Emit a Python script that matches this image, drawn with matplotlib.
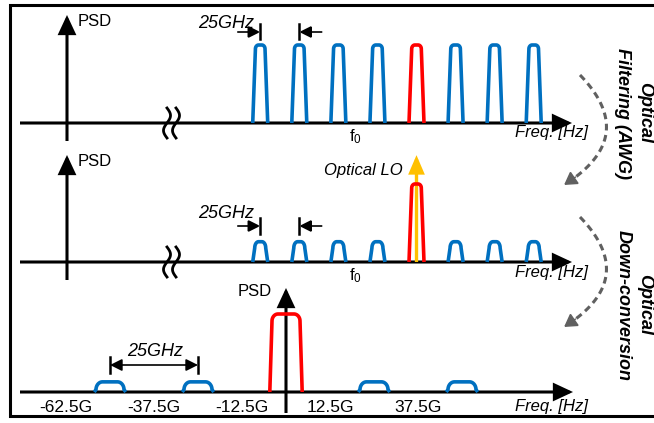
# Diagrama: filtrado óptico (AWG) y conversión descendente óptica de canales WDM
import numpy as np
import matplotlib.pyplot as plt
from matplotlib.patches import FancyArrowPatch

plt.rcParams['font.family'] = ['Liberation Sans', 'DejaVu Sans']
plt.rcParams['mathtext.default'] = 'regular'

# frecuencias de los canales relativas al canal seleccionado (GHz)
canales_wdm = [-100, -75, -50, -25, 0, 25, 50, 75]
altura_filtrado = [1, 1, 1, 1, 1, 1, 1, 1]
altura_lo = [0.26, 0.26, 0.26, 0.26, 1, 0.26, 0.26, 0.26]
nivel_lo = 1.37
# espectro tras la conversión (GHz respecto al LO)
canales_bb = [-50, -25, 0, 25, 50]
altura_bb = [0.13, 0.13, 1, 0.13, 0.13]
etiquetas_bb = [-62.5, -37.5, -12.5, 12.5, 37.5]

AZUL = '#0070C0'
ROJO = '#FF0000'
AMARILLO = '#FFC000'
W, H, U = 654, 423, 78.0

fig = plt.figure(figsize=(6.54, 4.23), dpi=100)

# ejes de fondo en pixeles para marco, ejes y textos
bg = fig.add_axes([0, 0, 1, 1])
bg.set_xlim(0, W)
bg.set_ylim(H, 0)
bg.axis('off')


def flecha(ax, p0, p1, color='k', lw=2.2, hl=0.6, hw=0.28, ms=18):
    ax.add_patch(FancyArrowPatch(p0, p1, arrowstyle=f'-|>,head_length={hl},head_width={hw}',
                                 mutation_scale=ms, color=color, lw=lw, shrinkA=0, shrinkB=0,
                                 joinstyle='miter', capstyle='butt'))


# marco
bg.plot([W, 10, 10, W], [5, 5, 416, 416], color='k', lw=2.2, solid_joinstyle='miter')

# ejes de frecuencia y PSD
for y in [123, 262]:
    flecha(bg, (20, y), (572, y))
for y0, y1 in [(141, 15), (280, 155)]:
    flecha(bg, (67, y0), (67, y1))
flecha(bg, (20, 392), (573, 392))

# simbolo de corte del eje
ys = np.linspace(-15, 15, 40)
for yc in [123, 262]:
    for xc in [167, 176]:
        bg.plot(xc + 3.5 * np.sin(np.pi * ys / 15 + np.pi), yc + ys, color='k', lw=2.0)

# textos
for x, y, ha in [(78, 22, 'left'), (78, 161, 'left'), (272, 292, 'right')]:
    bg.text(x, y, 'PSD', fontsize=12, ha=ha, va='center')
for x, y in [(226, 23), (226, 213), (155, 351)]:
    bg.text(x, y, '25GHz', fontsize=13, style='italic', ha='center', va='center')
for y in [133, 272, 407]:
    bg.text(515, y, 'Freq. [Hz]', fontsize=12, style='italic', ha='left', va='center')
for y in [137, 276]:
    bg.text(355, y, r'f$_0$', fontsize=12, ha='center', va='center')
bg.text(403, 170, 'Optical LO', fontsize=12, style='italic', ha='right', va='center')

bg.text(645, 112, 'Optical', fontsize=13, weight='bold', style='italic',
        rotation=-90, ha='center', va='center')
bg.text(623, 114, 'Filtering (AWG)', fontsize=13, weight='bold', style='italic',
        rotation=-90, ha='center', va='center')
bg.text(645, 305, 'Optical', fontsize=13, weight='bold', style='italic',
        rotation=-90, ha='center', va='center')
bg.text(623, 305, 'Down-conversion', fontsize=13, weight='bold', style='italic',
        rotation=-90, ha='center', va='center')

# flechas curvas discontinuas
t = np.linspace(0, 1, 60)
for ya in [75, 217]:
    p0, p1, p2 = np.array([580, ya]), np.array([640, ya + 62]), np.array([564, ya + 110])
    curva = ((1 - t) ** 2)[:, None] * p0 + (2 * (1 - t) * t)[:, None] * p1 + (t ** 2)[:, None] * p2
    bg.plot(curva[:-4, 0], curva[:-4, 1], color='#606060', lw=2.2, dashes=(2.2, 1.5))
    flecha(bg, tuple(curva[-6]), tuple(curva[-1]), color='#606060', lw=1, hl=0.5, hw=0.3, ms=16)


def panel(eje_y, x0, escala):
    ax = fig.add_axes([0, 0, 1, 1])
    ax.set_xlim(-x0 / escala, (W - x0) / escala)
    ax.set_ylim(-(H - eje_y) / U, eje_y / U)
    ax.axis('off')
    ax.patch.set_visible(False)
    return ax


def canal(ax, c, h, hwb, hwt, rx, ry, color):
    a1 = np.linspace(np.pi, np.pi / 2, 12)
    a2 = np.linspace(np.pi / 2, 0, 12)
    x = np.concatenate([[c - hwb], (c - hwt + rx) + rx * np.cos(a1),
                        (c + hwt - rx) + rx * np.cos(a2), [c + hwb]])
    y = np.concatenate([[0], (h - ry) + ry * np.sin(a1), (h - ry) + ry * np.sin(a2), [0]])
    ax.plot(x, y, color=color, lw=2.6, solid_joinstyle='round', solid_capstyle='butt')


def marcas_25(ax, f1, f2, y0, y1, ym, largo):
    for f in (f1, f2):
        ax.plot([f, f], [y0, y1], color='k', lw=1.8)
    flecha(ax, (f1 - largo, ym), (f1, ym), lw=1.2, hl=0.6, hw=0.3, ms=12)
    flecha(ax, (f2 + largo, ym), (f2, ym), lw=1.2, hl=0.6, hw=0.3, ms=12)


# panel 1: filtrado
s1 = 39.07 / 25
ax1 = panel(123, 416.5, s1)
for f, h in zip(canales_wdm, altura_filtrado):
    canal(ax1, f, h, 7.5 / s1, 4.8 / s1, 3.2 / s1, 0.05, ROJO if f == 0 else AZUL)
marcas_25(ax1, canales_wdm[0], canales_wdm[1], (123 - 24) / U, (123 - 39) / U,
          (123 - 32) / U, 23 / s1)

# panel 2: LO optico
ax2 = panel(262, 416.5, s1)
for f, h in zip(canales_wdm, altura_lo):
    if f == 0:
        canal(ax2, f, h, 7.5 / s1, 4.8 / s1, 3.2 / s1, 0.05, ROJO)
    else:
        canal(ax2, f, h, 7.5 / s1, 5.5 / s1, 3.8 / s1, 0.08, AZUL)
flecha(ax2, (0, 0), (0, nivel_lo), color=AMARILLO, lw=2.4, hl=0.7, hw=0.3, ms=14)
marcas_25(ax2, canales_wdm[0], canales_wdm[1], (262 - 218) / U, (262 - 234) / U,
          (262 - 226) / U, 23 / s1)

# panel 3: banda base
s3 = 88 / 25
ax3 = panel(392, 286, s3)
for f, h in zip(canales_bb, altura_bb):
    if f == 0:
        canal(ax3, f, h, 16.2 / s3, 14 / s3, 6 / s3, 0.09, ROJO)
    else:
        canal(ax3, f, h, 15.8 / s3, 14 / s3, 6.5 / s3, 0.1, AZUL)
flecha(ax3, (0, -21 / U), (0, (392 - 288) / U))
for f in etiquetas_bb:
    txt = f'{f:g}G'
    ax3.text(f, -15 / U, txt, fontsize=12.5, ha='center', va='center')
ax3.plot([-50, -50], [(392 - 357) / U, (392 - 373) / U], color='k', lw=1.8)
ax3.plot([-25, -25], [(392 - 357) / U, (392 - 373) / U], color='k', lw=1.8)
ax3.add_patch(FancyArrowPatch((-50, (392 - 365) / U), (-25, (392 - 365) / U),
                              arrowstyle='<|-|>,head_length=0.6,head_width=0.3', mutation_scale=12,
                              color='k', lw=1.2, shrinkA=0, shrinkB=0))

fig.savefig('out.png', dpi=100)
